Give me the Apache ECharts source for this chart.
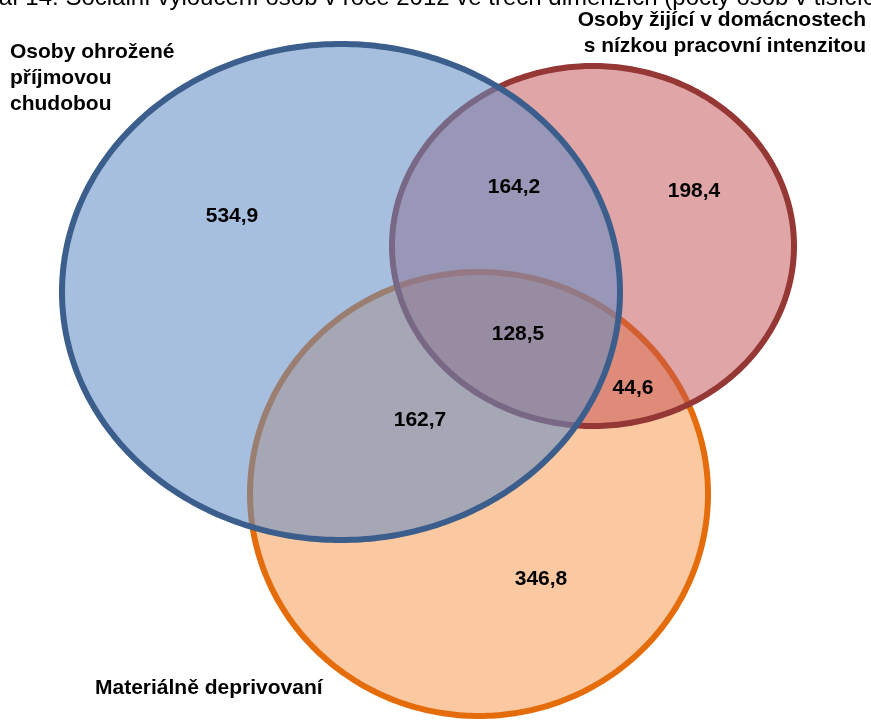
<!DOCTYPE html>
<html><head><meta charset="utf-8">
<script src="https://cdn.jsdelivr.net/npm/echarts@6/dist/echarts.min.js"></script>
<style>html,body{margin:0;padding:0;background:#fff}#c{width:871px;height:720px}</style>
</head><body><div id="c"></div>
<script>
// ---- data ----
const titleText = 'Graf 14: Sociální vyloučení osob v roce 2012 ve třech dimenzích (počty osob v tisících)';
const setNames = ['Osoby ohrožené\npříjmovou\nchudobou', 'Osoby žijící v domácnostech\ns nízkou pracovní intenzitou', 'Materiálně deprivovaní'];
const regionNames = ['pouze příjmová chudoba', 'chudoba + nízká intenzita', 'pouze nízká intenzita', 'všechny tři', 'nízká intenzita + deprivace', 'chudoba + deprivace', 'pouze deprivace'];
const regionValues = [534.9, 164.2, 198.4, 128.5, 44.6, 162.7, 346.8];

// ---- layout (drawing-space units, mapped through hidden axes) ----
const ellipseLayout = [ // cx, cy, rx, ry  (blue, red, orange)
  [341, 292, 279, 248],
  [593, 246, 201, 180],
  [479, 494, 229, 222]
];
const drawOrder = [2, 1, 0];
const regionLabelPos = [[232,216],[514,187],[694,191],[518,334],[633,388],[420,420],[541,579]];
const setLabelPos = [[10,52,'left'],[866,20,'right'],[95,688,'left']];

// ---- styles ----
const fills = ['rgba(98,141,196,0.56)', 'rgba(195,82,84,0.52)', '#FAC9A2'];
const strokes = ['#3B5E8C', '#953735', '#E46C0A'];
const FONT = '"Liberation Sans", Arial, sans-serif';

const fmt = v => v.toFixed(1).replace('.', ',');

const chart = echarts.init(document.getElementById('c'), null, {renderer: 'canvas'});
chart.setOption({
  animation: false,
  backgroundColor: '#fff',
  grid: {left: 0, right: 0, top: 0, bottom: 0},
  xAxis: {type: 'value', min: 0, max: 871, show: false},
  yAxis: {type: 'value', min: 0, max: 720, inverse: true, show: false},
  graphic: [{
    type: 'text', left: -28, top: -14, z: 100,
    style: {text: titleText, font: '24px ' + FONT, fill: '#000'}
  }],
  series: [
    {
      type: 'custom',
      coordinateSystem: 'cartesian2d',
      data: drawOrder.map(k => [...ellipseLayout[k], k]),
      z: 2,
      renderItem(params, api) {
        const cx = api.value(0), cy = api.value(1), rx = api.value(2), ry = api.value(3), k = api.value(4);
        const pts = [];
        for (let i = 0; i < 360; i++) {
          const t = i / 360 * 2 * Math.PI;
          pts.push(api.coord([cx + rx * Math.cos(t), cy + ry * Math.sin(t)]));
        }
        return {type: 'polygon', shape: {points: pts}, style: {fill: fills[k], stroke: strokes[k], lineWidth: 6}};
      }
    },
    {
      type: 'custom',
      coordinateSystem: 'cartesian2d',
      data: regionValues.map((v, i) => [regionLabelPos[i][0], regionLabelPos[i][1], v]),
      z: 10,
      renderItem(params, api) {
        const p = api.coord([api.value(0), api.value(1)]);
        return {type: 'text', x: p[0], y: p[1], style: {
          text: fmt(api.value(2)), font: 'bold 21px ' + FONT, fill: '#000', align: 'center', verticalAlign: 'middle'}};
      }
    },
    {
      type: 'custom',
      coordinateSystem: 'cartesian2d',
      data: setNames.map((n, i) => [setLabelPos[i][0], setLabelPos[i][1], i]),
      z: 10,
      renderItem(params, api) {
        const i = api.value(2);
        const p = api.coord([api.value(0), api.value(1)]);
        return {type: 'text', x: p[0], y: p[1] - 13, style: {
          text: setNames[i], font: 'bold 21px ' + FONT, fill: '#000', align: setLabelPos[i][2], verticalAlign: 'top', lineHeight: 26}};
      }
    }
  ]
});
</script></body></html>
